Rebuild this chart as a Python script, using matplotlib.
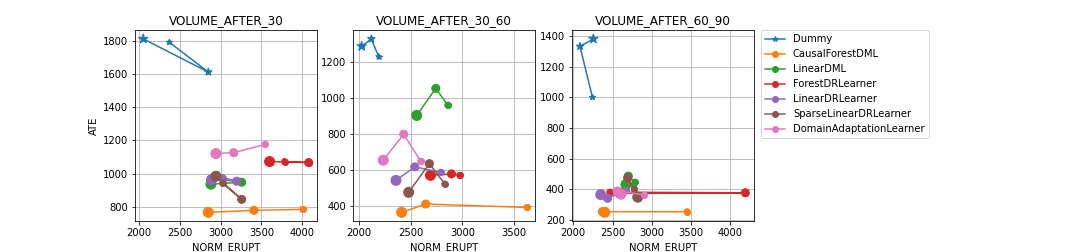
import matplotlib
matplotlib.use("Agg")
import matplotlib.pyplot as plt

titles = ["VOLUME_AFTER_30", "VOLUME_AFTER_30_60", "VOLUME_AFTER_60_90"]
models = ["Dummy", "CausalForestDML", "LinearDML", "ForestDRLearner",
          "LinearDRLearner", "SparseLinearDRLearner", "DomainAdaptationLearner"]
colors = ["#1f77b4", "#ff7f0e", "#2ca02c", "#d62728", "#9467bd", "#8c564b", "#e377c2"]

# NORM_ERUPT (x) per panel, per model (3 points each)
x_p1 = {
    "Dummy": [2049, 2847, 2368],
    "CausalForestDML": [2847, 3407, 4009],
    "LinearDML": [2880, 3256, 3011],
    "ForestDRLearner": [3600, 4080, 3784],
    "LinearDRLearner": [2888, 3195, 3023],
    "SparseLinearDRLearner": [2941, 3256, 3023],
    "DomainAdaptationLearner": [2941, 3158, 3546],
}
y_p1 = {
    "Dummy": [1810, 1611, 1790],
    "CausalForestDML": [768, 780, 786],
    "LinearDML": [937, 949, 973],
    "ForestDRLearner": [1073, 1067, 1073],
    "LinearDRLearner": [965, 955, 977],
    "SparseLinearDRLearner": [985, 846, 943],
    "DomainAdaptationLearner": [1121, 1127, 1176],
}
x_p2 = {
    "Dummy": [2023, 2117, 2188],
    "CausalForestDML": [2411, 2645, 3626],
    "LinearDML": [2557, 2742, 2858],
    "ForestDRLearner": [2690, 2894, 2975],
    "LinearDRLearner": [2356, 2538, 2790],
    "SparseLinearDRLearner": [2479, 2680, 2829],
    "DomainAdaptationLearner": [2233, 2431, 2596],
}
y_p2 = {
    "Dummy": [1287, 1328, 1230],
    "CausalForestDML": [367, 413, 394],
    "LinearDML": [904, 1054, 961],
    "ForestDRLearner": [572, 580, 572],
    "LinearDRLearner": [544, 619, 589],
    "SparseLinearDRLearner": [478, 637, 524],
    "DomainAdaptationLearner": [656, 800, 650],
}
x_p3 = {
    "Dummy": [2256, 2085, 2244],
    "CausalForestDML": [2400, 2370, 3449],
    "LinearDML": [2671, 2701, 2786],
    "ForestDRLearner": [2600, 4192, 2466],
    "LinearDRLearner": [2350, 2436, 2671],
    "SparseLinearDRLearner": [2821, 2692, 2778],
    "DomainAdaptationLearner": [2607, 2560, 2906],
}
y_p3 = {
    "Dummy": [1383, 1334, 1001],
    "CausalForestDML": [248, 252, 252],
    "LinearDML": [430, 485, 446],
    "ForestDRLearner": [372, 376, 380],
    "LinearDRLearner": [364, 340, 391],
    "SparseLinearDRLearner": [347, 474, 402],
    "DomainAdaptationLearner": [367, 388, 362],
}
xs = [x_p1, x_p2, x_p3]
ys = [y_p1, y_p2, y_p3]
point_sizes = [100, 64, 36]

fig, axes = plt.subplots(1, 4, figsize=(15, 3.5), dpi=72)
fig.subplots_adjust(bottom=0.123, top=0.88)
for k, ax in enumerate(axes[:3]):
    for i, m in enumerate(models):
        mk = "*" if m == "Dummy" else "o"
        ax.plot(xs[k][m], ys[k][m], marker=mk, color=colors[i], label=m, zorder=2)
        ax.scatter(xs[k][m], ys[k][m], s=point_sizes, marker=mk, color=colors[i], zorder=2)
    ax.set_title(titles[k])
    ax.set_xlabel("NORM_ERUPT")
    ax.grid(True)
axes[0].set_ylabel("ATE")
axes[3].axis("off")
axes[2].legend(loc="upper left", bbox_to_anchor=(1.04, 1), borderaxespad=0)
fig.savefig("out.png", dpi=72)
